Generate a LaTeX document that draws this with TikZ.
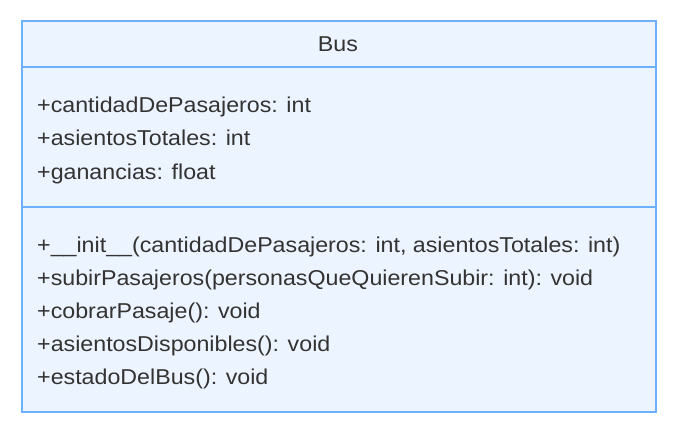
\documentclass[tikz,border=0pt]{standalone}
\usepackage{fontspec}
\setmainfont[FakeStretch=1.08]{Liberation Sans}
\definecolor{boxfill}{HTML}{ECF4FF}
\definecolor{boxline}{HTML}{6CB0FF}
\definecolor{txt}{HTML}{333333}
\begin{document}
\begin{tikzpicture}[x=1pt,y=-1pt,
  member/.style={anchor=base west,inner sep=0pt,text=txt,font=\fontsize{21.5}{21.5}\selectfont},
  title/.style={anchor=base,inner sep=0pt,text=txt,font=\fontsize{21.5}{21.5}\selectfont}]
\useasboundingbox (0,0) rectangle (683,433);
\node[draw=boxline,fill=boxfill,line width=1.6pt,minimum width=634pt,minimum height=391pt,inner sep=0pt,anchor=north west] (box) at (21,20) {};
\coordinate (d1l) at (21,67);
\coordinate (d1r) at (655,67);
\coordinate (d2l) at (21,207);
\coordinate (d2r) at (655,207);
\draw[boxline,line width=1.6pt] (d1l) -- (d1r);
\draw[boxline,line width=1.6pt] (d2l) -- (d2r);
\node[title] (t) at (338,52) {Bus};
\node[member] (a1) at (37,113) {+cantidadDePasajeros: int};
\node[member] (a2) at (37,146) {+asientosTotales: int};
\node[member] (a3) at (37,179) {+ganancias: float};
\node[member] (m1) at (37,252) {+\_\_init\_\_(cantidadDePasajeros: int, asientosTotales: int)};
\node[member] (m2) at (37,285) {+subirPasajeros(personasQueQuierenSubir: int): void};
\node[member] (m3) at (37,318) {+cobrarPasaje(): void};
\node[member] (m4) at (37,351) {+asientosDisponibles(): void};
\node[member] (m5) at (37,384) {+estadoDelBus(): void};
\end{tikzpicture}
\end{document}
